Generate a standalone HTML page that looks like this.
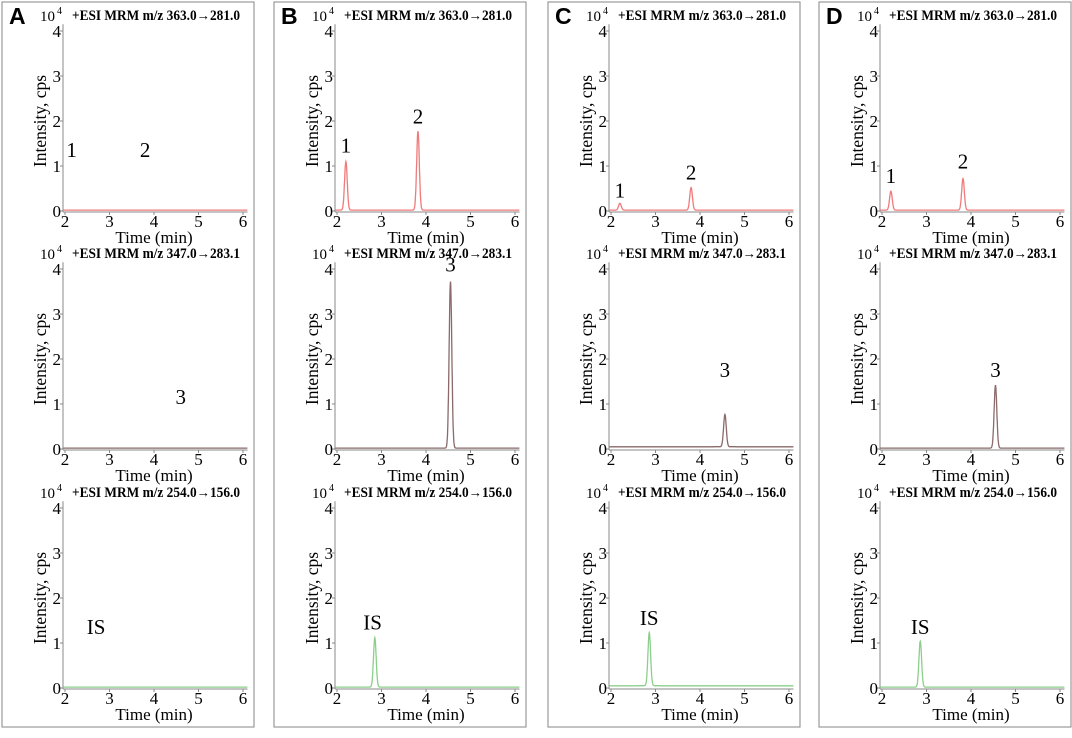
<!DOCTYPE html>
<html><head><meta charset="utf-8"><style>
html,body{margin:0;padding:0;background:#fff;}
svg{display:block;font-family:"Liberation Serif",serif;}
</style></head><body>
<svg id="c" width="1072" height="738" viewBox="0 0 1072 738" xmlns="http://www.w3.org/2000/svg"></svg>
<script>
const panelLetters = ["A","B","C","D"];
const rowTitles = ["+ESI MRM m/z 363.0\u2192281.0","+ESI MRM m/z 347.0\u2192283.1","+ESI MRM m/z 254.0\u2192156.0"];
const rowColors = ["#f07a7a","#8a6a6a","#8ccf8c"];
const xTicks = [2,3,4,5,6];
const yTicks = [0,1,2,3,4];
// peaks per panel per row: [time, height(x10^4)]
const peaksA = [[],[],[]];
const peaksB = [[[2.2,1.08],[3.82,1.75]],[[4.55,3.7]],[[2.85,1.1]]];
const peaksC = [[[2.2,0.15],[3.8,0.5]],[[4.56,0.72]],[[2.86,1.18]]];
const peaksD = [[[2.2,0.42],[3.82,0.7]],[[4.55,1.4]],[[2.86,1.02]]];
const baselines = [[0.02,0.02,0.02],[0.02,0.02,0.02],[0.02,0.05,0.05],[0.02,0.02,0.02]];
// labels: [text, time, y]
const labelsA = [[["1",2.15,1.2],["2",3.8,1.2]],[["3",4.6,1.0]],[["IS",2.7,1.2]]];
const labelsB = [[["1",2.2,1.3],["2",3.82,1.95]],[["3",4.55,3.95]],[["IS",2.8,1.3]]];
const labelsC = [[["1",2.2,0.3],["2",3.8,0.7]],[["3",4.56,1.6]],[["IS",2.86,1.4]]];
const labelsD = [[["1",2.2,0.62],["2",3.82,0.95]],[["3",4.55,1.6]],[["IS",2.86,1.2]]];
const allPeaks=[peaksA,peaksB,peaksC,peaksD];
const allLabels=[labelsA,labelsB,labelsC,labelsD];

const NS="http://www.w3.org/2000/svg";
const svg=document.getElementById('c');
function mk(tag,attrs,parent,text){const e=document.createElementNS(NS,tag);for(const k in attrs)e.setAttribute(k,attrs[k]);if(text!==undefined)e.textContent=text;(parent||svg).appendChild(e);return e;}
const panelLefts=[2,274,548,819];
const rowOff=[0,238,477];
const PW=252;
for(let p=0;p<4;p++){
  const L=panelLefts[p];
  const g=mk('g',{});
  
  
  const r=mk('rect',{x:L,y:2,width:PW,height:725,fill:'none',stroke:'#999','stroke-width':1.2},g);
  
  const lt=mk('text',{x:L+7,y:24,'font-family':'Liberation Sans, sans-serif','font-weight':'bold','font-size':23},g,panelLetters[p]);
  
  for(let r2=0;r2<3;r2++){
    const O=rowOff[r2];
    const ax=L+61, x0=L+63, ppm=44.5;
    const y0=211+O, ppu=45;
    const X=t=>x0+(t-2)*ppm;
    const Y=v=>y0-v*ppu;
    const sg=mk('g',{},g);
    
    
    const tt=mk('text',{x:L+70,y:O+20,'font-weight':'bold','font-size':14.5,textLength:168,lengthAdjust:'spacingAndGlyphs'},sg,rowTitles[r2]);
    
    const e=mk('text',{x:L+38,y:O+21,'font-size':15},sg,'10');
    
    mk('tspan',{dy:-7,dx:2,'font-size':10},e,'4');
    const xa=mk('line',{x1:ax,y1:y0+1,x2:X(6.1),y2:y0+1,stroke:'#888','stroke-width':1},sg);
    
    const ya=mk('line',{x1:ax,y1:Y(4.15),x2:ax,y2:y0+1,stroke:'#888','stroke-width':1},sg);
    
    xTicks.forEach(t=>{
      mk('line',{x1:X(t),y1:y0+1,x2:X(t),y2:y0+4,stroke:'#888'},sg);
      const tl=mk('text',{x:X(t),y:y0+16,'text-anchor':'middle','font-size':17},sg,t);
      
    });
    yTicks.forEach(v=>{
      mk('line',{x1:ax-3,y1:Y(v),x2:ax,y2:Y(v),stroke:'#888'},sg);
      const yl=mk('text',{x:ax-2,y:Y(v)+6,'text-anchor':'end','font-size':17},sg,v);
      
    });
    const xt=mk('text',{x:X(4),y:O+243,'text-anchor':'middle','font-size':17},sg,'Time (min)');
    
    const yt=mk('text',{x:0,y:0,'text-anchor':'middle','font-size':17.5,transform:`translate(${L+44},${Y(2)}) rotate(-90)`},sg,'Intensity, cps');
    
    const pk=allPeaks[p][r2], base=baselines[p][r2];
    let d='';
    for(let t=1.96;t<=6.1;t+=0.005){
      let v=base;
      pk.forEach(([c,h])=>{const s=0.03;v+=h*Math.exp(-((t-c)*(t-c))/(2*s*s));});
      d+=(d?'L':'M')+X(t).toFixed(1)+' '+Y(v).toFixed(1);
    }
    const tr=mk('path',{d:d,fill:'none',stroke:rowColors[r2],'stroke-width':1.3},sg);
    
    allLabels[p][r2].forEach(([s,t,v])=>{
      const pl=mk('text',{x:X(t),y:Y(v),'text-anchor':'middle','font-size':21},sg,s);
      
      
    });
  }
}
</script>
</body></html>
